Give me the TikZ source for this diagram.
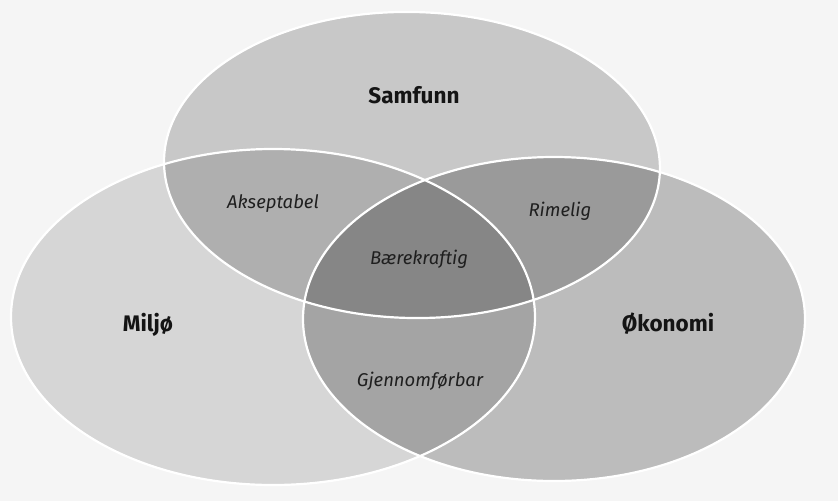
\documentclass[tikz,border=0pt]{standalone}
\usepackage{fontspec}
\setmainfont{Fira Sans}
\begin{document}
\begin{tikzpicture}[x=1pt,y=-1pt,
  setfill/.style={fill=black, fill opacity=#1},
  rim/.style={draw=white, line width=2.2pt},
  mainlabel/.style={font=\fontsize{22.5}{26}\selectfont\bfseries, text=black!92},
  sublabel/.style={font=\fontsize{18.5}{22}\selectfont\itshape, text=black!88}]
\fill[white!96!black] (0,0) rectangle (838,501);
\useasboundingbox (0,0) rectangle (838,501);
% sets
\coordinate (cS) at (412,165);
\coordinate (cM) at (273,317);
\coordinate (cO) at (554,319);
\fill[setfill=0.125] (cM) ellipse [x radius=262pt, y radius=168pt];
\fill[setfill=0.23] (cO) ellipse [x radius=251pt, y radius=162pt];
\fill[setfill=0.18, rotate around={-1.2:(cS)}] (cS) ellipse [x radius=248pt, y radius=153pt];
% outlines
\draw[rim] (cM) ellipse [x radius=262pt, y radius=168pt];
\draw[rim] (cO) ellipse [x radius=251pt, y radius=162pt];
\draw[rim, rotate around={-1.2:(cS)}] (cS) ellipse [x radius=248pt, y radius=153pt];
% labels
\node[mainlabel] (samfunn) at (414,95) {Samfunn};
\node[mainlabel] (miljo) at (148,325) {Miljø};
\node[mainlabel] (okonomi) at (668,324) {Økonomi};
\node[sublabel] (akseptabel) at (273,204) {Akseptabel};
\node[sublabel] (rimelig) at (560,211) {Rimelig};
\node[sublabel] (baerekraftig) at (419,259) {Bærekraftig};
\node[sublabel] (gjennom) at (420,381) {Gjennomførbar};
\end{tikzpicture}
\end{document}
